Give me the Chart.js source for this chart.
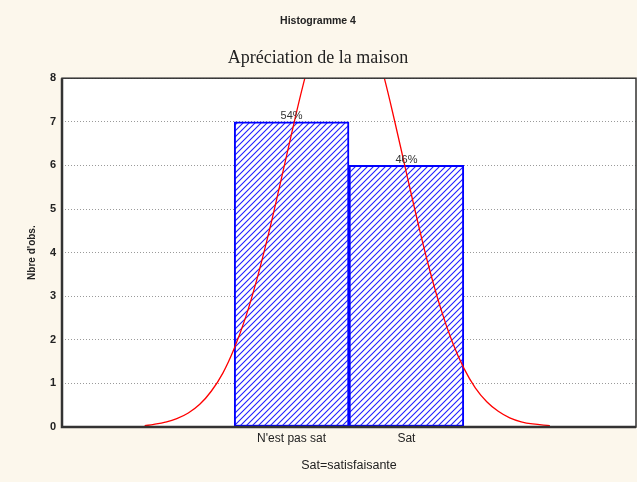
<!DOCTYPE html>
<html lang="fr">
<head>
    <meta charset="UTF-8">
    <title>Histogramme 4</title>
    <script src="https://cdn.jsdelivr.net/npm/chart.js"></script>
    <style>
        html, body {
            margin: 0;
            padding: 0;
            background: #fcf7ec;
        }
        #wrap {
            width: 637px;
            height: 482px;
        }
    </style>
</head>
<body>
    <div id="wrap">
        <canvas id="myChart" width="637" height="482"></canvas>
    </div>

    <script>
        // données
        const categories = ["N'est pas sat", "Sat"];
        const barX = [1, 2];
        const counts = [7, 6];
        const percents = ["54%", "46%"];

        // courbe normale attendue (valeurs estimées sur l'image)
        const curveX = [-0.28, -0.2, -0.1, 0.0, 0.1, 0.2, 0.3, 0.4, 0.5, 0.6, 0.7, 0.8, 0.9, 1.0,
                        1.1, 1.2, 1.3, 1.4, 1.5, 1.6, 1.7, 1.8, 1.9, 2.0, 2.1, 2.2, 2.3, 2.4,
                        2.5, 2.6, 2.7, 2.8, 2.9, 3.0, 3.1, 3.25];
        const curveY = [0.03, 0.06, 0.11, 0.19, 0.32, 0.52, 0.82, 1.23, 1.80, 2.52, 3.41, 4.44, 5.57, 6.73,
                        7.84, 8.80, 9.52, 9.92, 9.96, 9.64, 8.99, 8.08, 6.99, 5.83, 4.69, 3.63, 2.71, 1.95,
                        1.35, 0.90, 0.58, 0.36, 0.21, 0.12, 0.07, 0.03];

        const yTicks = [0, 1, 2, 3, 4, 5, 6, 7, 8];

        // motif hachuré des barres
        function makeHatch() {
            const s = 6;
            const c = document.createElement('canvas');
            c.width = s;
            c.height = s;
            const g = c.getContext('2d');
            g.fillStyle = '#ffffff';
            g.fillRect(0, 0, s, s);
            g.strokeStyle = '#2020ff';
            g.lineWidth = 1.1;
            g.beginPath();
            g.moveTo(-1, s + 1); g.lineTo(s + 1, -1);
            g.moveTo(-1, 1); g.lineTo(1, -1);
            g.moveTo(s - 1, s + 1); g.lineTo(s + 1, s - 1);
            g.stroke();
            return g.createPattern(c, 'repeat');
        }

        const frame = {
            id: 'frame',
            beforeDraw(chart) {
                const {ctx, chartArea: a} = chart;
                ctx.save();
                ctx.fillStyle = '#fcf7ec';
                ctx.fillRect(0, 0, chart.width, chart.height);
                ctx.fillStyle = '#ffffff';
                ctx.fillRect(a.left, a.top, a.right - a.left, a.bottom - a.top);
                ctx.restore();
            },
            afterDraw(chart) {
                const {ctx, chartArea: a} = chart;
                ctx.save();
                ctx.strokeStyle = '#333333';
                ctx.lineWidth = 1.5;
                ctx.strokeRect(a.left, a.top, a.right - a.left, a.bottom - a.top);
                ctx.lineWidth = 2.5;
                ctx.beginPath();
                ctx.moveTo(a.left, a.top);
                ctx.lineTo(a.left, a.bottom);
                ctx.lineTo(a.right, a.bottom);
                ctx.stroke();
                ctx.restore();
            }
        };

        // pourcentages au-dessus des barres
        const barLabels = {
            id: 'barLabels',
            afterDatasetsDraw(chart) {
                const {ctx} = chart;
                const meta = chart.getDatasetMeta(1);
                ctx.save();
                ctx.font = '11px "Liberation Sans", Arial, sans-serif';
                ctx.fillStyle = '#333333';
                ctx.textAlign = 'center';
                ctx.textBaseline = 'bottom';
                meta.data.forEach((bar, i) => {
                    ctx.fillText(percents[i], bar.x, bar.y);
                });
                ctx.restore();
            }
        };

        const ctx = document.getElementById('myChart').getContext('2d');
        const myChart = new Chart(ctx, {
            type: 'bar',
            data: {
                datasets: [{
                    type: 'line',
                    label: 'Normale',
                    data: curveX.map((x, i) => ({x: x, y: curveY[i]})),
                    borderColor: '#ff0000',
                    borderWidth: 1.3,
                    pointRadius: 0,
                    tension: 0.4,
                    fill: false,
                    order: 0
                }, {
                    label: 'Nbre d\'obs.',
                    data: barX.map((x, i) => ({x: x, y: counts[i]})),
                    backgroundColor: makeHatch(),
                    borderColor: '#0000ff',
                    borderWidth: 2,
                    borderSkipped: false,
                    barPercentage: 1,
                    categoryPercentage: 1,
                    order: 1
                }]
            },
            options: {
                responsive: false,
                maintainAspectRatio: false,
                animation: false,
                layout: { padding: { left: 0, right: 1, top: 0, bottom: 0 } },
                plugins: {
                    legend: { display: false },
                    tooltip: { enabled: false },
                    title: {
                        display: true,
                        text: 'Histogramme 4',
                        color: '#222222',
                        font: { family: '"Liberation Sans", Arial, sans-serif', size: 10.5, weight: 'bold' },
                        padding: { top: 15, bottom: 16 }
                    },
                    subtitle: {
                        display: true,
                        text: 'Apréciation de la maison',
                        color: '#222222',
                        font: { family: '"Liberation Serif", "Times New Roman", serif', size: 18 },
                        padding: { top: 4, bottom: 9 }
                    }
                },
                scales: {
                    x: {
                        type: 'linear',
                        min: -1,
                        max: 4,
                        offset: false,
                        grid: { display: false, offset: false, drawTicks: true, tickLength: 4 },
                        border: { display: false },
                        ticks: {
                            stepSize: 1,
                            padding: 0,
                            color: '#222222',
                            font: { family: '"Liberation Sans", Arial, sans-serif', size: 12 },
                            callback: (v) => {
                                const k = barX.indexOf(v);
                                return k >= 0 ? categories[k] : '';
                            }
                        },
                        title: {
                            display: true,
                            text: 'Sat=satisfaisante',
                            color: '#222222',
                            font: { family: '"Liberation Sans", Arial, sans-serif', size: 12.5 },
                            padding: { top: 0, bottom: 9 }
                        },
                        afterFit: (s) => { s.height = 55; }
                    },
                    y: {
                        min: 0,
                        max: 8,
                        grid: {
                            color: '#9a9a9a',
                            lineWidth: 1,
                            drawTicks: false
                        },
                        border: { display: false, dash: [1, 2] },
                        afterBuildTicks: (s) => { s.ticks = yTicks.map(v => ({value: v})); },
                        ticks: {
                            padding: 6,
                            color: '#222222',
                            font: { family: '"Liberation Sans", Arial, sans-serif', size: 11, weight: 'bold' }
                        },
                        title: {
                            display: true,
                            text: 'Nbre d\'obs.',
                            color: '#222222',
                            font: { family: '"Liberation Sans", Arial, sans-serif', size: 10, weight: 'bold' },
                            padding: { top: 26, bottom: 0 }
                        },
                        afterFit: (s) => { s.width = 62; }
                    }
                }
            },
            plugins: [frame, barLabels]
        });
    </script>
</body>
</html>
